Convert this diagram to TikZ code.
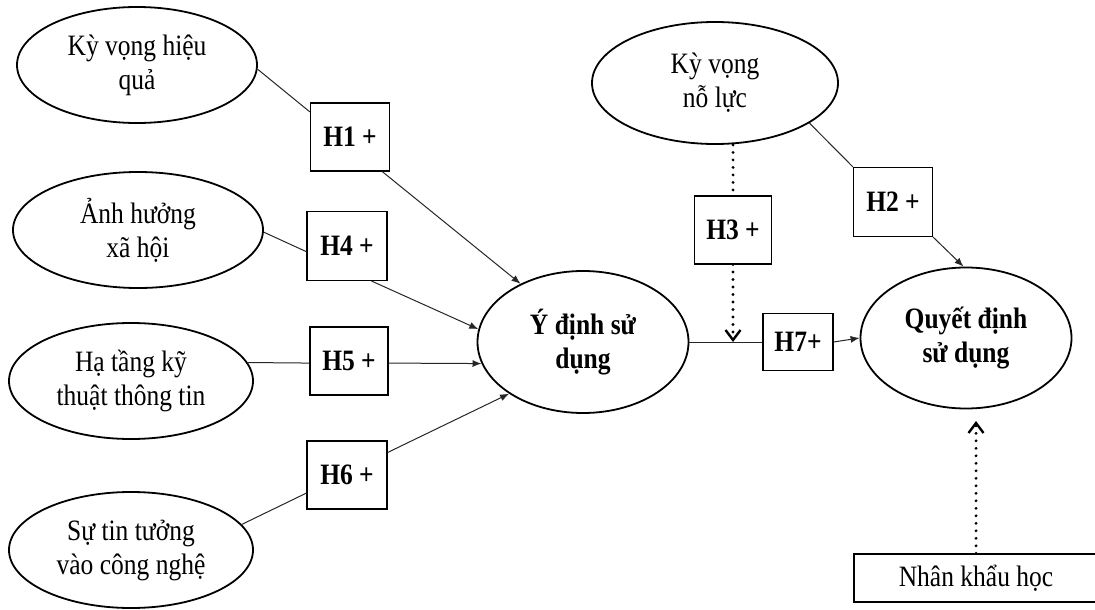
\documentclass[tikz,border=0pt]{standalone}
\usepackage{graphicx}
\usepackage{fontspec}
\setmainfont{Liberation Serif}
\usetikzlibrary{shapes.geometric,arrows.meta}
\newcommand{\vs}[1]{\scalebox{1}[1.16]{#1}}
\begin{document}
\begin{tikzpicture}[x=1pt,y=-1pt,
  font=\fontsize{25.5}{34}\selectfont,
  oval/.style={draw, line width=1.8pt, ellipse, inner sep=0pt, align=center},
  hbox/.style={draw, line width=1.1pt, rectangle, inner sep=0pt, font=\fontsize{25.5}{34}\selectfont\bfseries},
  conn/.style={line width=1pt, draw=black!85},
  arr/.style={conn, -{Latex[length=9pt,width=7pt]}},
  dotline/.style={line width=3.2pt, line cap=round, dash pattern=on 0pt off 7.5pt},
  dotarr/.style={dotline, -{Straight Barb[length=10pt,width=15pt,line width=2.4pt]}},
]
\useasboundingbox (0,0) rectangle (1095,610);
\clip (0,0) rectangle (1095,610);

% ellipses
\node[oval, minimum width=240pt, minimum height=116pt] (e1) at (137,65) {\vs{Kỳ vọng hiệu}\\\vs{quả}};
\node[oval, minimum width=250pt, minimum height=116pt] (e2) at (138,230) {\vs{Ảnh hưởng}\\\vs{xã hội}};
\node[oval, minimum width=244pt, minimum height=116pt] (e3) at (131,381) {\vs{Hạ tầng kỹ}\\\vs{thuật thông tin}};
\node[oval, minimum width=244pt, minimum height=116pt] (e4) at (131,550) {\vs{Sự tin tưởng}\\\vs{vào công nghệ}};
\node[oval, minimum width=211pt, minimum height=142pt, font=\fontsize{25.5}{34}\selectfont\bfseries] (e5) at (583,342) {\vs{Ý định sử}\\\vs{dụng}};
\node[oval, minimum width=211pt, minimum height=141pt, font=\fontsize{25.5}{34}\selectfont\bfseries] (e6) at (966,338) {\vs{Quyết định}\\\vs{sử dụng}};
\node[oval, minimum width=246pt, minimum height=122pt] (e7) at (715,83) {\vs{Kỳ vọng}\\\vs{nỗ lực}};

% hypothesis boxes
\node[hbox, minimum width=79pt, minimum height=68pt] (h1) at (350,137) {\vs{H1 +}};
\node[hbox, minimum width=80pt, minimum height=69pt] (h4) at (347,246) {\vs{H4 +}};
\node[hbox, minimum width=78pt, minimum height=68pt] (h5) at (349,361) {\vs{H5 +}};
\node[hbox, minimum width=80pt, minimum height=68pt] (h6) at (347,475) {\vs{H6 +}};
\node[hbox, minimum width=77pt, minimum height=68pt] (h3) at (733,230) {\vs{H3 +}};
\node[hbox, minimum width=79pt, minimum height=69pt] (h2) at (893,202) {\vs{H2 +}};
\node[hbox, minimum width=70pt, minimum height=57pt] (h7) at (798,342) {\vs{H7+}};

\node[draw, line width=1.3pt, rectangle, inner sep=0pt, minimum width=244pt, minimum height=48pt] (nk) at (976,578) {\vs{Nhân khẩu học}};
\coordinate (nktip) at (976,421);

% connectors
\draw[conn] (e1.-2) -- (h1.148);
\draw[arr] (h1.313) -- (e5.137);
\draw[conn] (e2.-1) -- (h4.188);
\draw[arr] (h4.305) -- (e5.173);
\draw[conn] (e3.9) -- (h5.183);
\draw[arr] (h5.357) -- (e5.192);
\draw[conn] (e4.13) -- (h6.204);
\draw[arr] (h6.29) -- (e5.215);
\draw[conn] (e7.337) -- (h2.north west);
\draw[arr] (h2.south east) -- (e6.92);
\draw[dotline] (e7.south -| h3.north) -- (h3.north);
\draw[dotarr] (h3.south) -- (h3.south |- e5.east);
\draw[conn] (e5.east) -- (h7.west);
\draw[arr] (h7.east) -- (e6.west);
\draw[dotarr] (nk.north) -- (nktip);
\end{tikzpicture}
\end{document}
